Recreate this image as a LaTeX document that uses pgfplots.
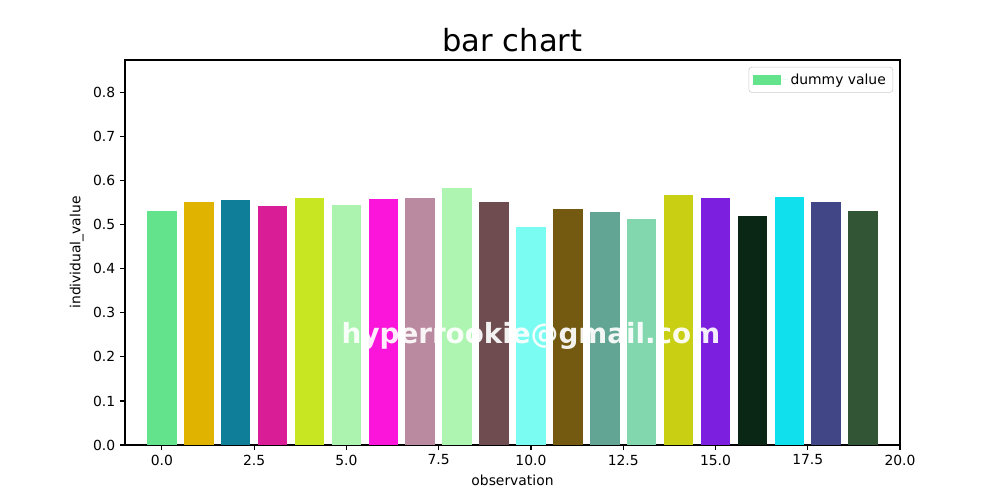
\documentclass[border=0pt]{standalone}
\usepackage{fontspec}
\setmainfont{DejaVu Sans}
\usepackage{pgfplots}
\pgfplotsset{compat=1.18}
\definecolor{c0}{HTML}{64E38D}
\definecolor{c1}{HTML}{DFB300}
\definecolor{c2}{HTML}{0F7E99}
\definecolor{c3}{HTML}{D91D97}
\definecolor{c4}{HTML}{C8E622}
\definecolor{c5}{HTML}{ADF3B0}
\definecolor{c6}{HTML}{FB14DA}
\definecolor{c7}{HTML}{BA8AA1}
\definecolor{c8}{HTML}{ADF5B0}
\definecolor{c9}{HTML}{6E4C4F}
\definecolor{c10}{HTML}{7AFCF2}
\definecolor{c11}{HTML}{745A10}
\definecolor{c12}{HTML}{62A595}
\definecolor{c13}{HTML}{83D7AF}
\definecolor{c14}{HTML}{C9CF12}
\definecolor{c15}{HTML}{7D1FDE}
\definecolor{c16}{HTML}{0A2615}
\definecolor{c17}{HTML}{10E0EE}
\definecolor{c18}{HTML}{414686}
\definecolor{c19}{HTML}{315535}
\begin{document}
\begin{tikzpicture}
\useasboundingbox (0,0) rectangle (720pt,360pt);
\begin{axis}[
  at={(90pt,39.6pt)}, anchor=south west,
  scale only axis, width=558pt, height=277.2pt,
  xmin=-1, xmax=20, ymin=0, ymax=0.874,
  xtick={0,2.5,5,7.5,10,12.5,15,17.5,20},
  ytick={0,0.1,0.2,0.3,0.4,0.5,0.6,0.7,0.8},
  /pgf/number format/.cd, fixed, fixed zerofill, precision=1, assume math mode=true,
  /pgfplots/.cd,
  tick align=outside, xtick pos=bottom, ytick pos=left,
  major tick length=3.5pt,
  tick style={black, line width=0.8pt},
  axis line style={line width=0.8pt},
  ticklabel style={font=\fontsize{10}{12}\selectfont},
  title={bar chart},
  title style={font=\fontsize{22}{26}\selectfont, at={(0.5,1)}, anchor=base, yshift=0pt},
  xlabel={observation}, ylabel={individual\_value},
  label style={font=\fontsize{10}{12}\selectfont},
  ybar, bar width=0.8, bar shift=0pt,
  area legend,
  legend style={at={(1,1)}, anchor=north east, xshift=-5pt, yshift=-5pt,
    draw=black!20, rounded corners=2pt, font=\fontsize{10}{12}\selectfont,
    inner xsep=3pt, inner ysep=2.5pt},
  legend image code/.code={\fill[#1, sharp corners] (0pt,-3.5pt) rectangle (20pt,3.5pt); \path (0pt,0pt) -- (25pt,0pt);},
]
\addplot[fill=c0, draw=none] coordinates {(0,0.531)};
\addlegendentry{dummy value}
\addplot[fill=c1, draw=none, forget plot] coordinates {(1,0.552)};
\addplot[fill=c2, draw=none, forget plot] coordinates {(2,0.556)};
\addplot[fill=c3, draw=none, forget plot] coordinates {(3,0.543)};
\addplot[fill=c4, draw=none, forget plot] coordinates {(4,0.561)};
\addplot[fill=c5, draw=none, forget plot] coordinates {(5,0.545)};
\addplot[fill=c6, draw=none, forget plot] coordinates {(6,0.559)};
\addplot[fill=c7, draw=none, forget plot] coordinates {(7,0.561)};
\addplot[fill=c8, draw=none, forget plot] coordinates {(8,0.584)};
\addplot[fill=c9, draw=none, forget plot] coordinates {(9,0.552)};
\addplot[fill=c10, draw=none, forget plot] coordinates {(10,0.495)};
\addplot[fill=c11, draw=none, forget plot] coordinates {(11,0.536)};
\addplot[fill=c12, draw=none, forget plot] coordinates {(12,0.529)};
\addplot[fill=c13, draw=none, forget plot] coordinates {(13,0.513)};
\addplot[fill=c14, draw=none, forget plot] coordinates {(14,0.568)};
\addplot[fill=c15, draw=none, forget plot] coordinates {(15,0.561)};
\addplot[fill=c16, draw=none, forget plot] coordinates {(16,0.520)};
\addplot[fill=c17, draw=none, forget plot] coordinates {(17,0.563)};
\addplot[fill=c18, draw=none, forget plot] coordinates {(18,0.552)};
\addplot[fill=c19, draw=none, forget plot] coordinates {(19,0.531)};
\node[text=white, opacity=0.92, font=\fontsize{20}{24}\selectfont\bfseries] at (axis cs:10,0.248) {hyperrookie@gmail.com};
\end{axis}
\end{tikzpicture}
\end{document}
